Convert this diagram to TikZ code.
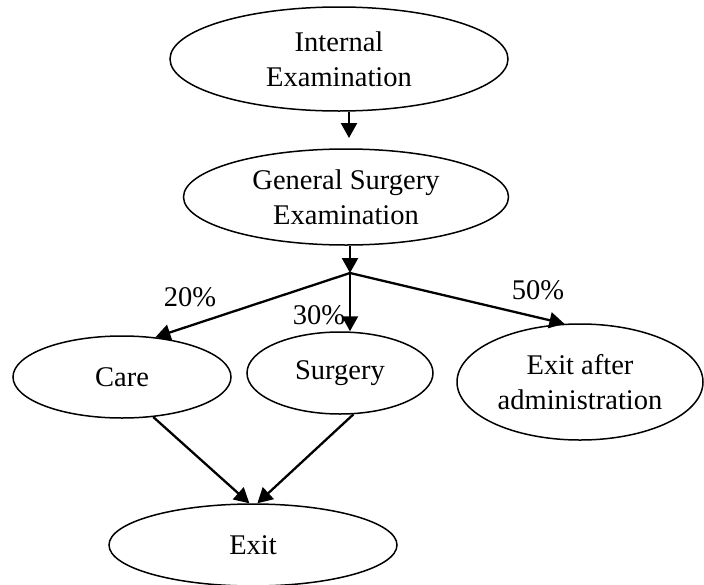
\documentclass[tikz,border=0pt]{standalone}
\usepackage{fontspec}
\setmainfont{Liberation Serif}
\usetikzlibrary{arrows.meta,shapes.geometric,calc}
\tikzset{
  state/.style={draw, ellipse, line width=1.5pt, inner sep=0pt, align=center,
    font=\fontsize{28.5}{35}\selectfont},
  flow/.style={line width=2.3pt, -{Triangle[length=15pt,width=16pt]}},
  pct/.style={anchor=base, inner sep=0pt, font=\fontsize{28.5}{35}\selectfont}
}
\begin{document}
\begin{tikzpicture}[x=1pt,y=-1pt]
  \useasboundingbox (0,0) rectangle (704,584);
  \begin{scope}
    \clip (0,0) rectangle (704,584);

    % stages
    \node[state, minimum width=338pt, minimum height=104pt] (int) at (339,59) {Internal\\Examination};
    \node[state, minimum width=325pt, minimum height=96pt] (gen) at (346,197) {General Surgery\\Examination};
    \node[state, minimum width=218pt, minimum height=82pt] (care) at (122,377) {Care};
    \node[state, minimum width=186pt, minimum height=82pt] (surg) at (340,373) {Surgery};
    \node[state, minimum width=246pt, minimum height=116pt] (adm) at (580,382) {Exit after\\administration};
    \node[state, minimum width=288pt, minimum height=82pt] (exit) at (253,545) {Exit};

    % branching point below the general examination
    \coordinate (t1) at (349,138);
    \coordinate (j) at (350,273);

    % connectors
    \draw[flow] (t1 |- int.south) -- (t1);
    \draw[flow] (j |- gen.south) -- (j);
    \draw[flow] (j) -- (care.50);
    \draw[flow] (j) -- (j |- surg.north);
    \draw[flow] (j) -- (adm.105);
    \draw[flow] (care.-52) -- (exit.95);
    \draw[flow] (surg.-72) -- (exit.84);

    % branch shares
    \node[pct] (p20) at (190,306) {20\%};
    \node[pct] (p30) at (319,324) {30\%};
    \node[pct] (p50) at (538,299) {50\%};
  \end{scope}
\end{tikzpicture}
\end{document}
